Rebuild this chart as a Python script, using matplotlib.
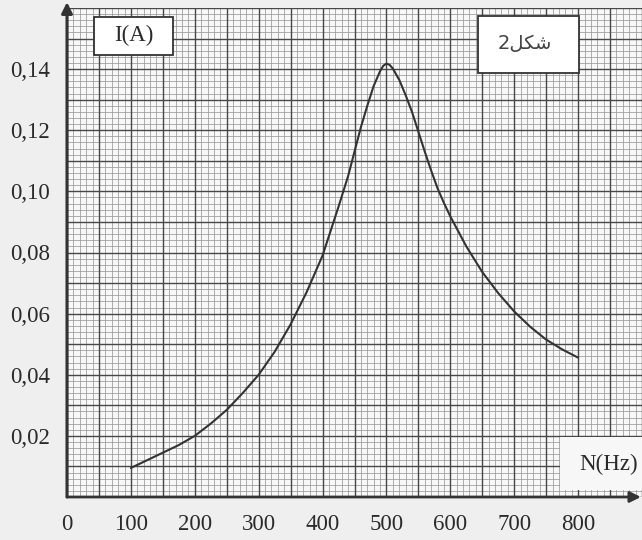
import numpy as np
import matplotlib
matplotlib.use("Agg")
import matplotlib.pyplot as plt
from matplotlib.patches import Rectangle

# ── Data ────────────────────────────────────────────────────────────────────
freq_hz = [100, 125, 150, 175, 200, 225, 250, 275, 300, 325, 350, 375, 400,
           425, 440, 450, 460, 470, 480, 490, 495, 500, 505, 510, 520, 530,
           540, 550, 560, 570, 580, 590, 600, 625, 650, 675, 700, 725, 750,
           775, 800]
current_a = [0.0095, 0.012, 0.0145, 0.017, 0.020, 0.024, 0.0285, 0.034,
             0.040, 0.0475, 0.0565, 0.067, 0.079, 0.095, 0.105, 0.113,
             0.121, 0.128, 0.1345, 0.1393, 0.1411, 0.1418, 0.1414, 0.1402,
             0.1365, 0.1315, 0.126, 0.1195, 0.113, 0.1068, 0.1010, 0.0962,
             0.0918, 0.0820, 0.0736, 0.0667, 0.0607, 0.0557, 0.0515,
             0.0483, 0.0456]

x_ticks = [0, 100, 200, 300, 400, 500, 600, 700, 800]
x_tick_labels = ["0", "100", "200", "300", "400", "500", "600", "700", "800"]
y_ticks = [0.02, 0.04, 0.06, 0.08, 0.10, 0.12, 0.14]
y_tick_labels = ["0,02", "0,04", "0,06", "0,08", "0,10", "0,12", "0,14"]

title_box = "2" + "\uFEDE\uFEDC\uFEB7"  # شكل2 in visual order
ylabel_text = "I(A)"
xlabel_text = "N(Hz)"

SERIF = ["Liberation Serif", "DejaVu Serif"]
INK = "#2a2a2a"

fig = plt.figure(figsize=(6.42, 5.40), dpi=100, facecolor="#efefef")
ax = fig.add_axes([67 / 642, 43 / 540, 575 / 642, 489 / 540])
ax.set_facecolor("#f8f8f8")
ax.set_xlim(0, 900)
ax.set_ylim(0, 0.16)

# graph paper
for xv in np.arange(0, 901, 10):
    ax.axvline(xv, color="#9a9a9a", lw=0.55, zorder=0)
for yv in np.arange(0, 0.1601, 0.002):
    ax.axhline(yv, color="#9a9a9a", lw=0.55, zorder=0)
for xv in np.arange(0, 901, 50):
    ax.axvline(xv, color="#474747", lw=1.0, zorder=1)
for yv in np.arange(0, 0.1601, 0.01):
    ax.axhline(yv, color="#474747", lw=1.0, zorder=1)

for s in ax.spines.values():
    s.set_visible(False)

# axes with arrows
ax.annotate("", xy=(0, 1.012), xytext=(0, 0), xycoords="axes fraction",
            arrowprops=dict(arrowstyle="-|>", color="#333333", lw=2.2,
                            mutation_scale=16, shrinkA=0, shrinkB=0),
            annotation_clip=False, zorder=6)
ax.annotate("", xy=(0.998, 0), xytext=(0, 0), xycoords="axes fraction",
            arrowprops=dict(arrowstyle="-|>", color="#333333", lw=2.0,
                            mutation_scale=16, shrinkA=0, shrinkB=0),
            annotation_clip=False, zorder=6)

ax.plot(freq_hz, current_a, color="#333333", lw=1.5, zorder=2,
        solid_joinstyle="round", solid_capstyle="round")

ax.set_xticks(x_ticks)
ax.set_xticklabels(x_tick_labels, fontfamily=SERIF, fontsize=16.5, color=INK)
ax.set_yticks(y_ticks)
ax.set_yticklabels(y_tick_labels, fontfamily=SERIF, fontsize=16.5, color=INK)
ax.tick_params(axis="x", length=0, pad=12)
ax.tick_params(axis="y", length=0, pad=12)

# label boxes
ax.add_patch(Rectangle((42, 0.1446), 124, 0.0124, facecolor="white",
                       edgecolor="#333333", lw=1.3, zorder=4))
ax.text(104, 0.1509, ylabel_text, ha="center", va="center",
        fontfamily=SERIF, fontsize=16.5, color=INK, zorder=5)

ax.add_patch(Rectangle((643, 0.1387), 158, 0.0187, facecolor="white",
                       edgecolor="#333333", lw=1.3, zorder=4))
ax.text(717, 0.1485, title_box, ha="center", va="center",
        fontfamily=["DejaVu Sans"], fontsize=14, color="#444444", zorder=5)

ax.add_patch(Rectangle((771, 0.0023), 129, 0.0173, facecolor="#f7f7f7",
                       edgecolor="none", zorder=4))
ax.text(847, 0.0105, xlabel_text, ha="center", va="center",
        fontfamily=SERIF, fontsize=16.5, color=INK, zorder=5)

fig.savefig("out.png", dpi=100, facecolor=fig.get_facecolor())
